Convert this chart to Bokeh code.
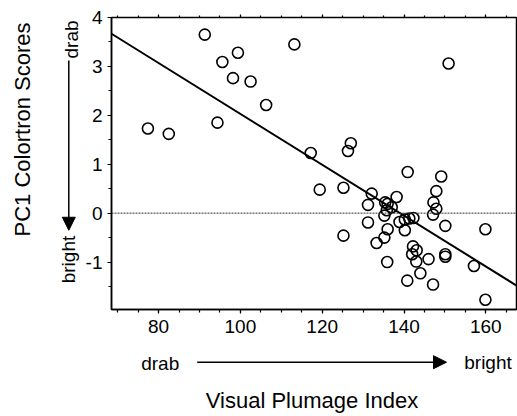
from math import pi
from bokeh.plotting import figure
from bokeh.layouts import row, column
from bokeh.models import (Range1d, LinearAxis, Span, Label, Arrow, NormalHead,
                          FixedTicker, CustomLabelingPolicy)
from bokeh.core.properties import value
from bokeh.embed import file_html
from bokeh.resources import INLINE

# ---- data ----
plumage = [77.4, 82.5, 91.3, 94.4, 95.6, 98.2, 99.4, 102.5, 106.3, 113.2,
           150.9, 117.2, 127.0, 126.3, 140.9, 149.1, 119.4, 125.2, 132.1, 138.2,
           147.9, 131.2, 135.4, 136.0, 137.0, 135.8, 147.2, 147.9, 147.1, 135.2,
           131.2, 138.9, 140.2, 141.3, 142.3, 150.1, 136.0, 140.2, 159.9, 125.2,
           135.2, 133.3, 142.2, 143.1, 142.0, 146.0, 143.0, 150.1, 150.1, 135.9,
           144.0, 157.1, 140.8, 147.1, 159.9]
pc1 = [1.73, 1.62, 3.65, 1.85, 3.09, 2.76, 3.28, 2.69, 2.21, 3.45,
       3.06, 1.23, 1.43, 1.27, 0.84, 0.75, 0.48, 0.52, 0.40, 0.33,
       0.45, 0.17, 0.22, 0.19, 0.12, 0.06, 0.22, 0.09, -0.03, -0.05,
       -0.19, -0.18, -0.13, -0.11, -0.10, -0.26, -0.33, -0.35, -0.33, -0.46,
       -0.50, -0.61, -0.68, -0.76, -0.84, -0.94, -0.99, -0.84, -0.89, -1.00,
       -1.23, -1.08, -1.38, -1.46, -1.77]
fit_intercept = 7.23
fit_slope = -0.052
x_ticks = [80, 100, 120, 140, 160]
y_ticks = [-1, 0, 1, 2, 3, 4]
y_tick_labels = {-1: "-1", 0: "0", 1: "1", 2: "2", 3: "3", 4: "4"}
x_lo, x_hi = 68.5, 167.5
y_lo, y_hi = -1.97, 4.0

FONT = "Liberation Sans"

# ---------------- main plot ----------------
p = figure(width=435, height=339, output_backend="svg", toolbar_location=None,
           x_range=Range1d(x_lo, x_hi), y_range=Range1d(y_lo, y_hi),
           min_border_left=26, min_border_right=1, min_border_top=17,
           min_border_bottom=30)
p.grid.visible = False
p.outline_line_color = "black"
p.outline_line_width = 1.5
p.background_fill_color = "white"
p.border_fill_color = "white"

x_minor = [v for v in range(70, 170, 5)]
y_minor = [v / 2 for v in range(-3, 8)]

for ax in (p.xaxis[0], p.yaxis[0]):
    ax.axis_line_color = "black"
    ax.axis_line_width = 1.5
    ax.major_tick_line_color = "black"
    ax.minor_tick_line_color = "black"
    ax.major_tick_line_width = 1.2
    ax.minor_tick_line_width = 1.2
    ax.major_tick_in = 0
    ax.minor_tick_in = 0
    ax.major_tick_out = 4
    ax.minor_tick_out = 3
    ax.major_label_text_font = FONT
    ax.major_label_text_font_size = "19px"
    ax.major_label_text_color = "black"
p.xaxis[0].ticker = FixedTicker(ticks=x_ticks, minor_ticks=x_minor)
p.yaxis[0].ticker = FixedTicker(ticks=y_ticks, minor_ticks=y_minor)
p.yaxis[0].major_label_overrides = y_tick_labels
p.xaxis[0].major_label_standoff = 6
p.yaxis[0].major_label_standoff = 5

top = LinearAxis(ticker=FixedTicker(ticks=x_ticks, minor_ticks=x_minor),
                 axis_line_color=None, major_tick_in=0, minor_tick_in=0,
                 major_tick_out=3, minor_tick_out=2,
                 major_tick_line_width=1.2, minor_tick_line_width=1.2,
                 major_label_text_font_size="1px", major_label_standoff=0,
                 major_label_policy=CustomLabelingPolicy(code="return []"))
p.add_layout(top, "above")

# zero reference line
p.add_layout(Span(location=0, dimension="width", line_color="#333333",
                  line_width=1, line_dash="2 1"))

# regression line
fx = [x_lo, x_hi]
fy = [fit_intercept + fit_slope * v for v in fx]
p.line(fx, fy, line_color="black", line_width=2)

# points
p.scatter(plumage, pc1, size=11, fill_color=None, line_color="black",
          line_width=1.6)


def blank(w, h):
    f = figure(width=w, height=h, output_backend="svg", toolbar_location=None,
               x_range=Range1d(0, w), y_range=Range1d(0, h),
               x_axis_type=None, y_axis_type=None, min_border=0)
    f.outline_line_color = None
    f.background_fill_color = "white"
    f.border_fill_color = "white"
    return f


def txt(x, y, s, size, angle=0.0):
    return Label(x=x, y=y, text=s, angle=angle, text_align="center",
                 text_baseline="middle", text_font=FONT,
                 text_font_size=size, text_color="black")


# ---------------- left annotation strip (y measured up from strip bottom) ----
LH = 339
left = blank(82, LH)
left.text(x=[22], y=[LH - 130], text=["PC1 Colortron Scores"], angle=pi / 2,
          text_align="center", text_baseline="middle", text_font=value(FONT),
          text_font_size="22px", text_color="black")
left.text(x=[71, 68], y=[LH - 25.5, LH - 281], text=["drab", "bright"],
          angle=pi / 2, text_align="center", text_baseline="middle",
          text_font=value(FONT), text_font_size="19px", text_color="black")
left.add_layout(Arrow(x_start=68.3, y_start=LH - 50, x_end=68.3, y_end=LH - 247,
                      line_color="black", line_width=1.5,
                      end=NormalHead(size=13, fill_color="black", line_color="black")))

# ---------------- bottom annotation strip ----------------
BH = 77
BT = 339  # page y of the strip's top
bottom = blank(517, BH)
bottom.add_layout(txt(159.7, BT + BH - 363, "drab", "19px"))
bottom.add_layout(txt(487.5, BT + BH - 362, "bright", "19px"))
bottom.add_layout(Arrow(x_start=196.7, y_start=BT + BH - 361.7, x_end=446,
                        y_end=BT + BH - 361.7,
                        line_color="black", line_width=1.5,
                        end=NormalHead(size=13, fill_color="black", line_color="black")))
bottom.add_layout(txt(311.5, BT + BH - 400, "Visual Plumage Index", "22px"))

layout = column(row(left, p), bottom)
open("out.html", "w").write(file_html(layout, INLINE))
